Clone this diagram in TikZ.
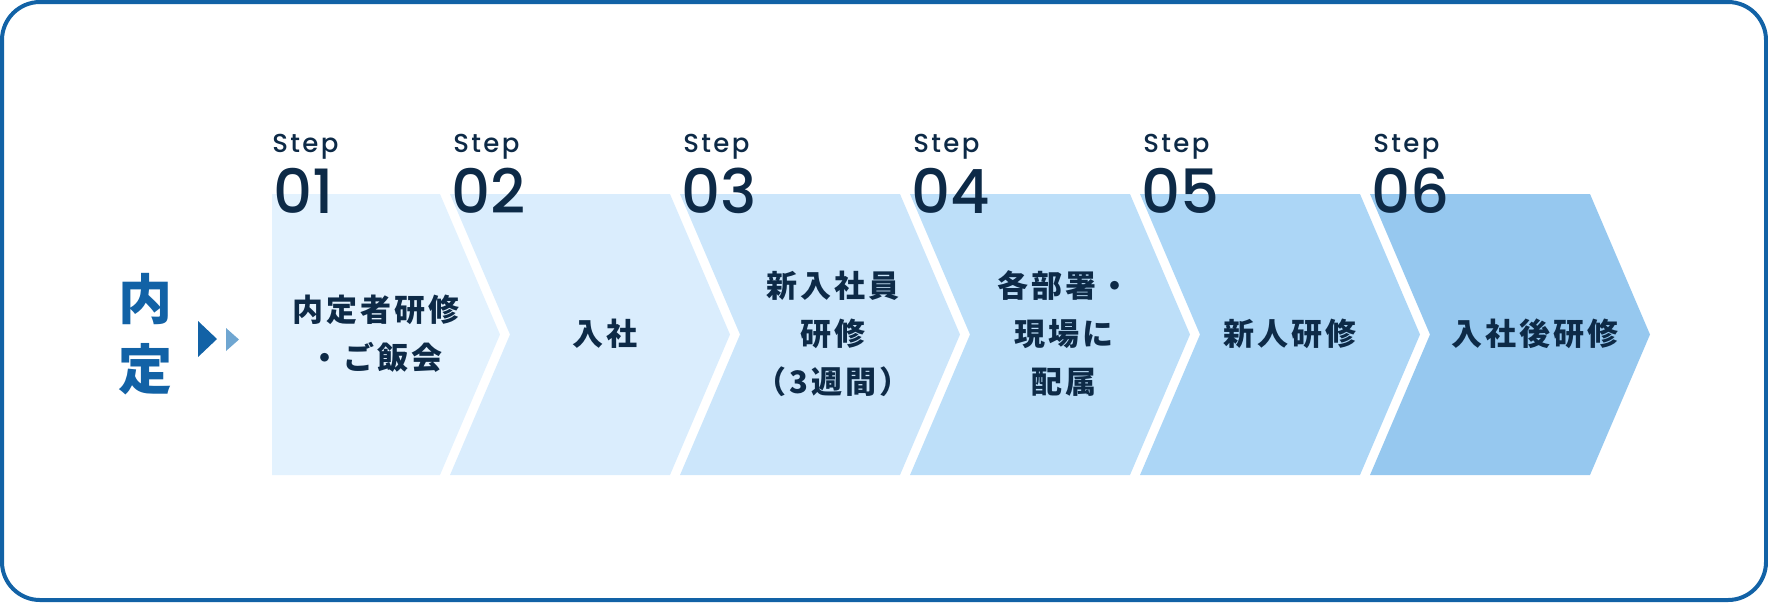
\documentclass[tikz,border=0pt]{standalone}
\usepackage{fontspec}
\newfontfamily\jp{Noto Sans CJK JP}[LetterSpace=10]
\newfontfamily\jpbig{Noto Sans CJK JP}
\newfontfamily\popnum{Poppins Medium}
\newfontfamily\popm{Poppins Medium}[LetterSpace=9]
\definecolor{frame}{HTML}{1262A6}
\definecolor{lighttri}{HTML}{6FA6D1}
\definecolor{ink}{HTML}{0D2A47}
\definecolor{cA}{HTML}{E3F2FE}
\definecolor{cB}{HTML}{DAEDFD}
\definecolor{cC}{HTML}{CCE6FB}
\definecolor{cD}{HTML}{BDDFF9}
\definecolor{cE}{HTML}{ACD6F6}
\definecolor{cF}{HTML}{96C8EF}
\tikzset{
  steplabel/.style={anchor=base west, inner sep=0pt, text=ink, font=\popm\fontsize{13}{14}\selectfont},
  stepnum/.style={anchor=base west, inner sep=0pt, text=ink, font=\popnum\fontsize{30.5}{34}\selectfont},
  boxtext/.style={inner sep=0pt, align=center, text=ink, font=\jp\bfseries\fontsize{15.5}{24}\selectfont},
}
\begin{document}
\begin{tikzpicture}[x=0.5pt,y=-0.5pt]
\useasboundingbox (0,0) rectangle (1768,602);
\draw[frame, line width=2pt, rounded corners=19pt] (2,2) rectangle (1766,600);
% chevrons
\fill[cA] (272,194) -- (440,194) -- (500,334.5) -- (440,475) -- (272,475) -- cycle;
\foreach \k/\c in {0/cB,1/cC,2/cD,3/cE,4/cF}{
  \pgfmathsetmacro{\xo}{450+230*\k}
  \fill[\c] (\xo,194) -- (\xo+220,194) -- (\xo+280,334.5) -- (\xo+220,475) -- (\xo,475) -- (\xo+60,334.5) -- cycle;
}
% left label
\node[inner sep=0pt, align=center, text=frame, font=\jpbig\bfseries\fontsize{27}{35}\selectfont] (naitei) at (145,334) {内\\定};
\fill[frame] (198,321) -- (217,339) -- (198,357) -- cycle;
\fill[lighttri] (226,328) -- (239,339.5) -- (226,351) -- cycle;
% step labels
\node[steplabel] (s1) at (272,152) {Step};
\node[stepnum] (n1) at (273,213) {01};
\foreach \k/\n in {2/02,3/03,4/04,5/05,6/06}{
  \pgfmathsetmacro{\xo}{450+230*(\k-2)}
  \node[steplabel] (s\k) at (\xo+3,152) {Step};
  \node[stepnum] (n\k) at (\xo+1,213) {\n};
}
% box texts
\node[boxtext] (t1) at (376,334) {内定者研修\\・ご飯会};
\node[boxtext] (t2) at (605,334) {入社};
\node[boxtext] (t3) at (833,334) {新入社員\\研修\\（3週間）};
\node[boxtext] (t4) at (1064,334) {各部署・\\現場に\\配属};
\node[boxtext] (t5) at (1290,334) {新人研修};
\node[boxtext] (t6) at (1535,334) {入社後研修};
\end{tikzpicture}
\end{document}
